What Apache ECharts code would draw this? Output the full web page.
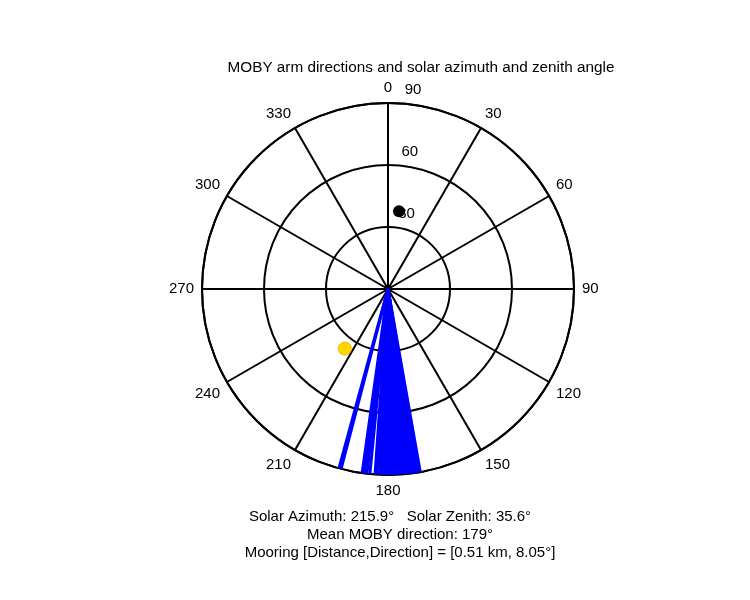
<!DOCTYPE html>
<html><head><meta charset="utf-8">
<script src="https://cdn.jsdelivr.net/npm/echarts@6/dist/echarts.min.js"></script>
<style>html,body{margin:0;background:#fff}#c{width:750px;height:600px}</style>
</head><body><div id="c"></div>
<script>
const angleTicks = [0,30,60,90,120,150,180,210,240,270,300,330];
const radiusTicks = [30,60,90];
const armDirections = [170,170.5,171,171.5,172,172.5,173,173.5,174,174.5,175,175.5,176,176.5,177,177.5,178,178.5,179,179.5,180,180.5,181,181.5,182,182.6,183.4,184,185.6,186.5,187.3,188,194.6,195.3];
const sunPoint = [35.6, 215.9];
const mooringPoint = [38, 8.05];
const footerLines = ['Solar Azimuth: 215.9°   Solar Zenith: 35.6°','Mean MOBY direction: 179°','Mooring [Distance,Direction] = [0.51 km, 8.05°]'];
const footerX = [390, 400, 400];
const F = 'Liberation Sans, Arial, sans-serif';
const chart = echarts.init(document.getElementById('c'));
const armSeries = armDirections.map(d => ({
  type:'line', coordinateSystem:'polar', data:[[0,d],[90,d]], symbol:'none', silent:true,
  lineStyle:{color:'#0000ff', width:3}, z:3
}));
chart.setOption({
  animation:false,
  title:{text:'MOBY arm directions and solar azimuth and zenith angle', left:416, top:55, textAlign:'center',
    textStyle:{fontFamily:F, fontSize:15.3, fontWeight:'normal', color:'#000'}},
  polar:{center:[388,289], radius:186},
  angleAxis:{type:'value', min:0, max:360, interval:30, startAngle:90, clockwise:true,
    axisLine:{lineStyle:{color:'#000', width:2}}, axisTick:{show:false},
    axisLabel:{fontFamily:F, fontSize:15, color:'#000', margin:8, formatter:v=>angleTicks.includes(v)?String(v):''},
    splitLine:{show:true, lineStyle:{color:'#000', width:2}}},
  radiusAxis:{type:'value', min:0, max:90, interval:30, axisLine:{show:false}, axisTick:{show:false},
    axisLabel:{show:false}, splitLine:{show:true, lineStyle:{color:'#000', width:2}}},
  graphic: footerLines.map((t,i)=>({type:'text', x:footerX[i], y:517+i*18, style:{text:t, font:'15px '+F, fill:'#000', align:'center', verticalAlign:'middle'}})),
  series:[
    ...armSeries,
    {type:'scatter', coordinateSystem:'polar', data:radiusTicks.map(r=>[r,3]), symbolSize:0, silent:true,
     itemStyle:{opacity:1},
     label:{show:true, formatter:p=>String(p.value[0]), position:'right', offset:[2,-13], fontFamily:F, fontSize:15, color:'#000'}, z:4},
    {type:'scatter', coordinateSystem:'polar', data:[mooringPoint], symbolSize:12, itemStyle:{color:'#000', opacity:1}, z:5},
    {type:'scatter', coordinateSystem:'polar', data:[sunPoint], symbolSize:13, itemStyle:{color:'#ffd700', borderColor:'#ffb000', borderWidth:1, opacity:1}, z:5}
  ]
});
</script></body></html>
